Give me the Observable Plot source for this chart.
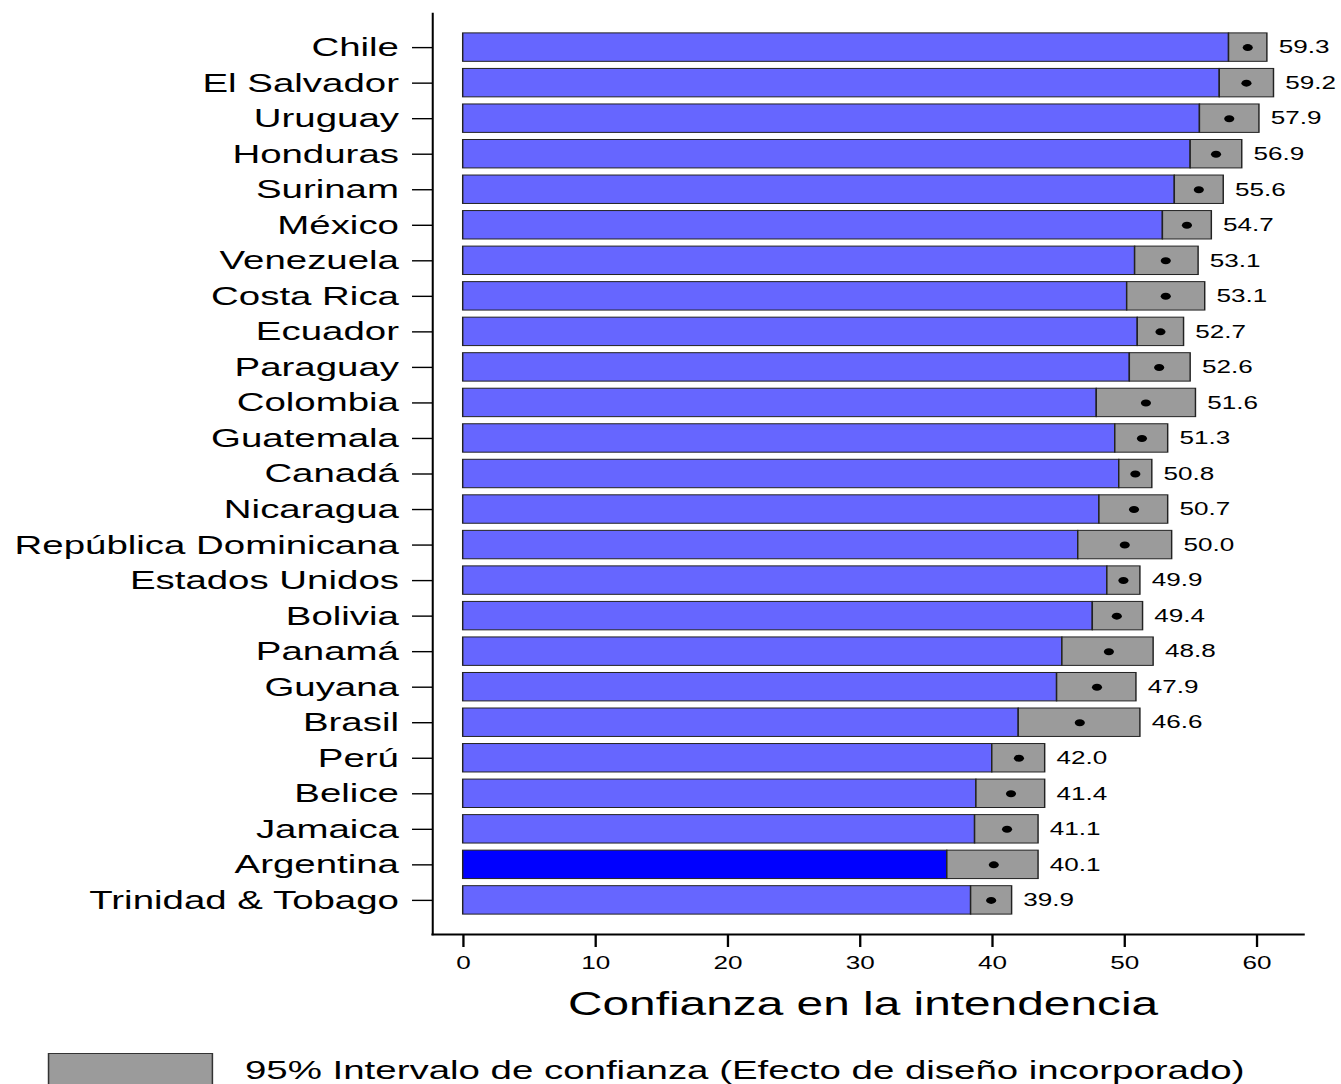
<!DOCTYPE html>
<html>
<head>
<meta charset="utf-8">
<script src="https://cdn.jsdelivr.net/npm/d3@7"></script>
<script src="https://cdn.jsdelivr.net/npm/@observablehq/plot@0.6"></script>
<style>
  html, body { margin: 0; padding: 0; background: #fff; overflow: hidden; }
  #chart svg { display: block; }
  #legend { position: relative; height: 44px; width: 925px; transform-origin: 0 0;
            font-family: "Liberation Sans", Arial, Helvetica, sans-serif; color: #000; }
  #legend .box { position: absolute; left: 33px; top: 13px; width: 114px; height: 40px;
                 background: #9B9B9B; border: 1px solid #333; box-sizing: border-box; }
  #legend .txt { position: absolute; left: 169px; top: 14px; font-size: 26.5px; line-height: 32px; white-space: nowrap; }
</style>
</head>
<body>
<div id="chart"></div>
<div id="legend"><div class="box"></div><div class="txt" id="legendText"></div></div>
<script>
// ---- data ----
const countries = ["Chile","El Salvador","Uruguay","Honduras","Surinam","México","Venezuela","Costa Rica","Ecuador","Paraguay","Colombia","Guatemala","Canadá","Nicaragua","República Dominicana","Estados Unidos","Bolivia","Panamá","Guyana","Brasil","Perú","Belice","Jamaica","Argentina","Trinidad & Tobago"];
const means = [59.3,59.2,57.9,56.9,55.6,54.7,53.1,53.1,52.7,52.6,51.6,51.3,50.8,50.7,50.0,49.9,49.4,48.8,47.9,46.6,42.0,41.4,41.1,40.1,39.9];
const lower = [57.9,57.2,55.7,55.0,53.8,52.9,50.8,50.2,51.0,50.4,47.9,49.3,49.6,48.1,46.5,48.7,47.6,45.3,44.9,42.0,40.0,38.8,38.7,36.6,38.4];
const upper = [60.8,61.3,60.2,58.9,57.5,56.6,55.6,56.1,54.5,55.0,55.4,53.3,52.1,53.3,53.6,51.2,51.4,52.2,50.9,51.2,44.0,44.0,43.5,43.5,41.5];
const highlight = "Argentina";
const xTicks = [0,10,20,30,40,50,60];
const xTitle = "Confianza en la intendencia";
const legendLabel = "95% Intervalo de confianza (Efecto de diseño incorporado)";

// ---- layout ----
const W0 = 925, H = 1040, REAL_W = 1341, S = REAL_W / W0;
const xDomain = [-2.32, 63.51];
const fmt = d3.format(".1f");
const rows = countries.map((c, i) => ({country: c, mean: means[i], lo: lower[i], hi: upper[i]}));
const font = "'Liberation Sans', Arial, Helvetica, sans-serif";

const plot = Plot.plot({
  width: W0, height: H,
  marginLeft: 298, marginRight: 26.4, marginTop: 13, marginBottom: 106,
  style: {fontFamily: font, color: "#000", background: "#fff", overflow: "visible"},
  x: {domain: xDomain},
  y: {domain: countries, paddingInner: 0.2, paddingOuter: 0.56, round: false},
  marks: [
    Plot.barX(rows.filter(d => d.country !== highlight), {y: "country", x1: 0, x2: "lo", fill: "#6666FF", stroke: "#222", strokeWidth: 1}),
    Plot.barX(rows.filter(d => d.country === highlight), {y: "country", x1: 0, x2: "lo", fill: "#0000FF", stroke: "#222", strokeWidth: 1}),
    Plot.barX(rows, {y: "country", x1: "lo", x2: "hi", fill: "#9B9B9B", stroke: "#222", strokeWidth: 1}),
    Plot.dot(rows, {y: "country", x: "mean", r: 3.5, fill: "#000", stroke: null}),
    Plot.text(rows, {y: "country", x: "hi", text: d => fmt(d.mean), textAnchor: "start", dx: 7.6, fontSize: 18, fill: "#000"}),
    Plot.axisY({tickSize: 13.8, tickPadding: 9.5, fontSize: 26.5, label: null, stroke: "#000", strokeWidth: 1.4}),
    Plot.axisX({ticks: xTicks, tickSize: 13, tickPadding: 9, fontSize: 18, label: null, stroke: "#000", strokeWidth: 1.6}),
    Plot.text([xTitle], {frameAnchor: "bottom", dy: 80, dx: -3.5, fontSize: 33, text: d => d, fill: "#000"}),
    Plot.frame({anchor: "left", stroke: "#000", strokeWidth: 1.4}),
    Plot.frame({anchor: "bottom", stroke: "#000", strokeWidth: 1.8})
  ]
});

plot.setAttribute("width", REAL_W);
plot.setAttribute("height", H);
plot.setAttribute("preserveAspectRatio", "none");
plot.style.width = REAL_W + "px";
plot.style.height = H + "px";
plot.style.maxWidth = "none";
document.getElementById("chart").appendChild(plot);

document.getElementById("legendText").textContent = legendLabel;
document.getElementById("legend").style.transform = `scaleX(${S})`;
</script>
</body>
</html>
